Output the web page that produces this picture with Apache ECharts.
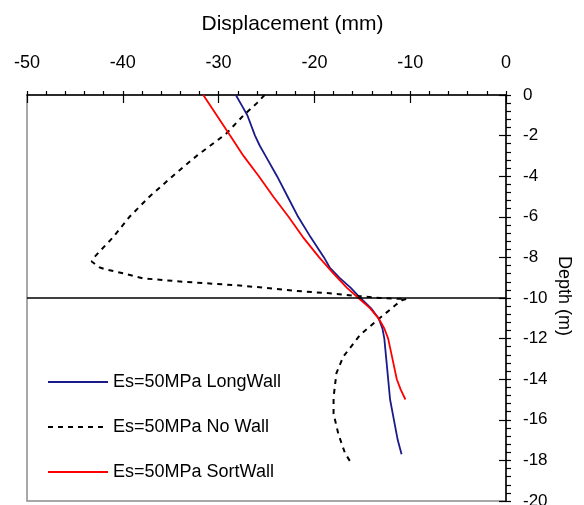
<!DOCTYPE html>
<html>
<head>
<meta charset="utf-8">
<script src="https://cdn.jsdelivr.net/npm/echarts@6/dist/echarts.min.js"></script>
<style>
  html, body { margin: 0; padding: 0; background: #fff; }
  #chart { width: 584px; height: 505px; }
</style>
</head>
<body>
<div id="chart"></div>
<script>
// Wall displacement profiles versus depth
const seriesNames = ['Es=50MPa LongWall', 'Es=50MPa No Wall', 'Es=50MPa SortWall'];

const longWallDepth = [0, -0.5, -1, -2, -2.5, -3, -4, -5, -6, -7, -8, -8.5, -9, -9.5, -10, -10.5, -11, -11.5, -12, -13, -14, -15, -16, -17, -17.7];
const longWallDisp  = [-28.2, -27.6, -27.0, -26.2, -25.7, -25.1, -23.9, -22.8, -21.7, -20.4, -19.0, -18.4, -17.4, -16.2, -15.2, -14.1, -13.3, -12.9, -12.7, -12.5, -12.3, -12.1, -11.7, -11.3, -10.9];

const noWallDepth = [0, -0.4, -1, -1.9, -3, -4, -5, -6, -7, -7.6, -8.0, -8.2, -8.5, -8.6, -8.8, -9.03, -9.2, -9.36, -9.5, -9.64, -9.77, -9.9, -10.0, -10.05, -10.1, -10.3, -11.0, -11.8, -12.9, -13.7, -14.9, -15.7, -16.7, -17.65, -18.1];
const noWallDisp  = [-25.2, -26.0, -27.4, -29.2, -32.3, -34.8, -37.2, -39.3, -41.0, -42.2, -43.0, -43.25, -42.4, -41.7, -39.8, -37.9, -33.7, -28.5, -25.0, -22.2, -18.4, -15.5, -13.1, -10.4, -10.8, -11.4, -13.2, -15.2, -17.0, -17.7, -18.0, -18.0, -17.5, -16.8, -16.2];

const sortWallDepth = [0, -1, -2, -3, -4, -5, -6, -7, -8, -8.8, -9.5, -10, -10.5, -11, -11.5, -12, -13, -14, -14.5, -15];
const sortWallDisp  = [-31.6, -30.2, -28.8, -27.4, -25.8, -24.3, -22.7, -21.2, -19.5, -18.0, -16.6, -15.4, -14.2, -13.3, -12.7, -12.3, -11.85, -11.4, -11.0, -10.5];

const xTickValues = [-50, -40, -30, -20, -10, 0];
const yTickValues = [0, -2, -4, -6, -8, -10, -12, -14, -16, -18, -20];
const excavationLevel = -10;

function pairs(xs, ys) {
  return xs.map((x, i) => [x, ys[i]]);
}

const FONT = 'Liberation Sans, Arial, sans-serif';
const chart = echarts.init(document.getElementById('chart'));

const xBase = {
  type: 'value', position: 'top',
  min: xTickValues[0], max: xTickValues[xTickValues.length - 1], interval: 10,
  splitLine: { show: false }
};
const yBase = {
  type: 'value', position: 'right',
  min: yTickValues[yTickValues.length - 1], max: yTickValues[0], interval: 2,
  splitLine: { show: false }
};

chart.setOption({
  animation: false,
  backgroundColor: '#fff',
  grid: {
    left: 27, right: 78, top: 95, bottom: 4,
    outerBoundsMode: 'none', containLabel: false,
    show: true, borderColor: '#8c8c8c', borderWidth: 1.5, backgroundColor: 'transparent'
  },
  xAxis: [
    Object.assign({}, xBase, {
      name: 'Displacement (mm)', nameLocation: 'middle', nameGap: 60,
      nameTextStyle: { fontFamily: FONT, fontSize: 21, color: '#000', padding: [0, 0, 0, 52] },
      axisLine: { show: true, lineStyle: { color: '#000', width: 1.5 } },
      axisTick: { show: true, inside: false, length: 4, lineStyle: { color: '#000', width: 1.2 } },
      minorTick: { show: true, splitNumber: 5, length: 4, lineStyle: { color: '#000', width: 1.2 } },
      axisLabel: { margin: 23, fontFamily: FONT, fontSize: 18, color: '#000' }
    }),
    Object.assign({}, xBase, {
      axisLine: { show: false },
      axisTick: { show: true, inside: true, length: 8, lineStyle: { color: '#000', width: 1.2 } },
      axisLabel: { show: false }
    })
  ],
  yAxis: [
    Object.assign({}, yBase, {
      axisLine: { show: true, lineStyle: { color: '#000', width: 1.5 } },
      axisTick: { show: true, inside: false, length: 5, lineStyle: { color: '#000', width: 1.2 } },
      minorTick: { show: true, splitNumber: 5, length: 5, lineStyle: { color: '#000', width: 1.2 } },
      axisLabel: { margin: 17, fontFamily: FONT, fontSize: 17, color: '#000' }
    }),
    Object.assign({}, yBase, {
      axisLine: { show: false },
      axisTick: { show: true, inside: true, length: 7, lineStyle: { color: '#000', width: 1.2 } },
      axisLabel: { show: false }
    })
  ],
  graphic: [{
    type: 'text', x: 564, y: 296, rotation: -Math.PI / 2,
    style: { text: 'Depth (m)', font: '18px ' + FONT, fill: '#000', align: 'center', verticalAlign: 'middle' }
  }],
  legend: {
    orient: 'vertical', left: 47, top: 372, padding: 0,
    itemWidth: 60, itemHeight: 14, itemGap: 25,
    itemStyle: { opacity: 0 },
    textStyle: { fontFamily: FONT, fontSize: 18, color: '#000', lineHeight: 20, padding: [0, 0, 0, 0] },
    data: seriesNames
  },
  series: [
    {
      name: seriesNames[0], type: 'line', symbol: 'none',
      lineStyle: { color: '#1a1a8a', width: 1.8 }, itemStyle: { color: '#1a1a8a' },
      data: pairs(longWallDisp, longWallDepth),
      markLine: {
        silent: true, symbol: 'none', label: { show: false },
        lineStyle: { color: '#000', width: 1.5, type: 'solid' },
        data: [{ yAxis: excavationLevel }]
      }
    },
    {
      name: seriesNames[1], type: 'line', symbol: 'none',
      lineStyle: { color: '#000', width: 2, type: [5, 5] }, itemStyle: { color: '#000' },
      data: pairs(noWallDisp, noWallDepth)
    },
    {
      name: seriesNames[2], type: 'line', symbol: 'none',
      lineStyle: { color: '#ff0000', width: 1.8 }, itemStyle: { color: '#ff0000' },
      data: pairs(sortWallDisp, sortWallDepth)
    }
  ]
});
</script>
</body>
</html>
